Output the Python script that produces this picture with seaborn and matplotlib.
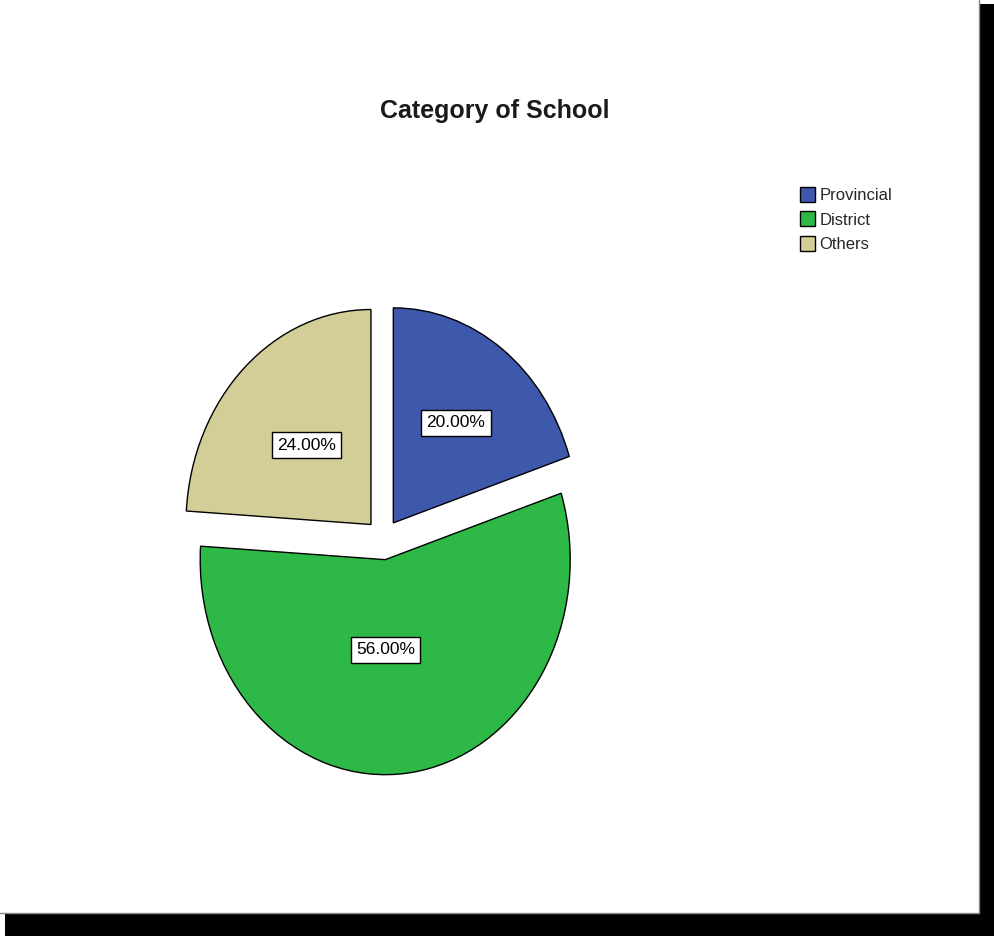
import matplotlib
matplotlib.use("Agg")
import matplotlib.pyplot as plt
from matplotlib.patches import Rectangle
import numpy as np
import seaborn as sns

categories = ["Provincial", "District", "Others"]
percentages = [20.0, 56.0, 24.0]
colors = ["#3E58AC", "#2EB848", "#D3CE97"]
title = "Category of School"

sns.set_theme(style="white")
plt.rcParams["font.family"] = ["Liberation Sans", "DejaVu Sans"]

W, H = 994, 936
fig = plt.figure(figsize=(W / 100, H / 100), dpi=100)
fig.patch.set_facecolor("white")

# drop-shadow frame
fig.patches.append(Rectangle((980 / W, 0), (W - 980) / W, (H - 4) / H,
                             transform=fig.transFigure, fc="black", ec="none", zorder=0))
fig.patches.append(Rectangle((5 / W, 0), (W - 5) / W, (H - 913) / H,
                             transform=fig.transFigure, fc="black", ec="none", zorder=0))
fig.lines.append(plt.Line2D([979 / W, 979 / W], [(H - 913) / H, 1], transform=fig.transFigure,
                            color="#888888", lw=1))
fig.lines.append(plt.Line2D([0, 979 / W], [(H - 913) / H, (H - 913) / H], transform=fig.transFigure,
                            color="#888888", lw=1))

# axes sized so 1 unit = 185 px horizontally, 215 px vertically (SPSS stretched pie)
rx, ry = 185, 215
cx, cy = 383, H - 539.4
lim = 1.3
ax = fig.add_axes([(cx - lim * rx) / W, (cy - lim * ry) / H, 2 * lim * rx / W, 2 * lim * ry / H])

explode = [0.095] * len(percentages)
wedges, texts, autotexts = ax.pie(
    percentages, colors=colors, explode=explode, startangle=90, counterclock=False,
    autopct=lambda p: f"{p:.2f}%", pctdistance=0.5,
    wedgeprops=dict(edgecolor="black", linewidth=1.0),
    textprops=dict(fontsize=12.5, color="black"),
)
ax.set_aspect("auto")
ax.set_xlim(-lim, lim)
ax.set_ylim(-lim, lim)
ax.axis("off")

label_dist = [0.575, 0.42, 0.507]
label_angle_shift = [0, -7, 0]
for w, t, d, s in zip(wedges, autotexts, label_dist, label_angle_shift):
    mid = np.deg2rad((w.theta1 + w.theta2) / 2 + s)
    x0, y0 = w.center
    t.set_position((x0 + d * np.cos(mid), y0 + d * np.sin(mid)))
    t.set_bbox(dict(boxstyle="square,pad=0.3", fc="white", ec="black", lw=1))

fig.text(495 / W, 1 - 111 / H, title, ha="center", va="center",
         fontsize=18, fontweight="bold", color="#1a1a1a")

leg = fig.legend(wedges, categories, loc="upper left",
                 bbox_to_anchor=(800 / W, 1 - 187 / H), bbox_transform=fig.transFigure,
                 frameon=False, fontsize=12, handlelength=0.9, handleheight=1.0,
                 handletextpad=0.25, labelspacing=0.5, borderpad=0, borderaxespad=0)

fig.savefig("out.png", dpi=100, facecolor="white")
